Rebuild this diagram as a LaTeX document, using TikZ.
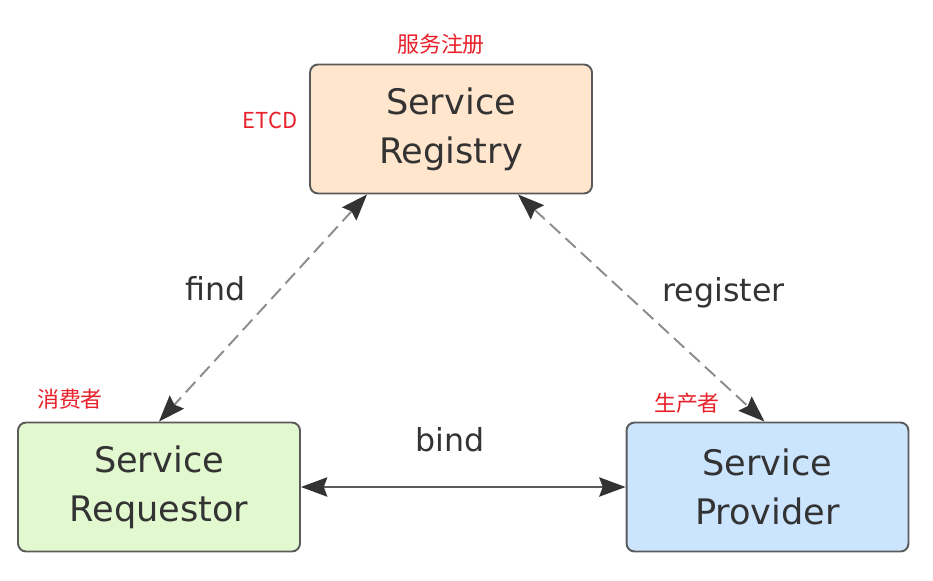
\documentclass[tikz,border=0pt]{standalone}
\usepackage{fontspec}
\setmainfont{DejaVu Sans}
\newfontfamily\cjk{Noto Sans CJK SC}
\usetikzlibrary{arrows.meta}

\definecolor{regfill}{HTML}{FFE6CC}
\definecolor{reqfill}{HTML}{E2F9D0}
\definecolor{provfill}{HTML}{CCE5FF}
\definecolor{boxline}{HTML}{5A5A5A}
\definecolor{dashline}{HTML}{8C8C8C}
\definecolor{ink}{HTML}{333333}
\definecolor{tagred}{HTML}{E8202A}

\tikzset{
    service/.style={draw=boxline, line width=1.1pt, rounded corners=0.16cm,
        minimum width=5.64cm, minimum height=2.58cm, align=center,
        text=ink, font=\fontsize{20}{28}\selectfont},
    tag/.style={text=tagred, font=\cjk\fontsize{12.5}{14}\selectfont, inner sep=0pt},
    tip/.style={Stealth[length=15pt, width=11pt, inset=2pt, color=ink]},
    link/.style={line width=1.1pt, draw=dashline, {Stealth[length=15pt, width=11pt, inset=2pt, color=ink]}-{Stealth[length=15pt, width=11pt, inset=2pt, color=ink]}},
    lbl/.style={text=ink, font=\fontsize{18}{20}\selectfont}
}

\begin{document}
\begin{tikzpicture}[x=0.02cm, y=-0.02cm]
    \useasboundingbox (0,0) rectangle (933,581);
    \node[service, fill=regfill]    (reg)   at (451,129) {Service\\Registry};
    \node[service, fill=reqfill]    (req)   at (159,487)   {Service\\Requestor};
    \node[service, fill=provfill]   (prov)  at (767.5,487) {Service\\Provider};

    \node[tag] (regtag)  at (441,44)  {服务注册};
    \node[tag] (etcd)    at (270,120) {ETCD};
    \node[tag] (reqtag)  at (70,399)  {消费者};
    \node[tag] (provtag) at (687,403) {生产者};

    \path
        ([xshift=-1.68cm]reg.south)
            edge [link, dash pattern=on 8pt off 4pt]
                node [lbl, above left, xshift=-6pt] {find} (req.north)
        ([xshift=1.34cm]reg.south)
            edge [link, dash pattern=on 8pt off 4pt]
                node [lbl, above right, pos=0.53, xshift=4pt] {register} ([xshift=-0.06cm]prov.north)
        (req.east)
            edge [link, draw=boxline] node [lbl, above=16pt, pos=0.46] {bind} (prov.west)
        ;
\end{tikzpicture}
\end{document}
